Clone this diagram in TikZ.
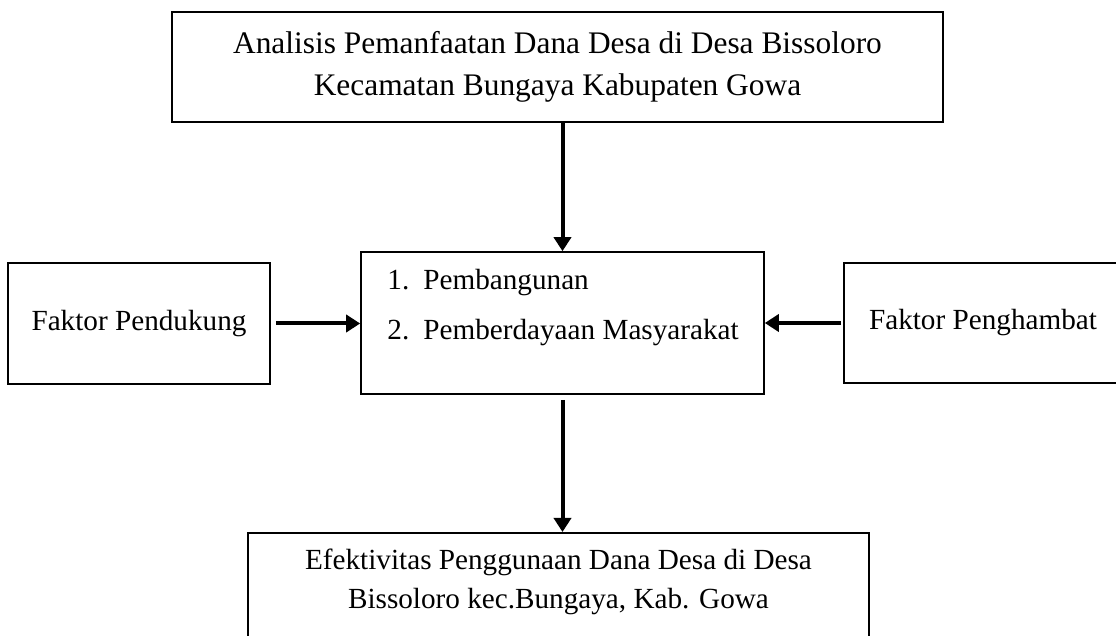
\documentclass[tikz,border=0pt]{standalone}
\usepackage{fontspec}
\setmainfont{Liberation Serif}
\usetikzlibrary{calc,arrows.meta}

\begin{document}
\begin{tikzpicture}[x=0.5pt,y=-0.5pt,
    box/.style={draw,line width=0.8pt,inner sep=0pt,align=center,
      font=\fontsize{14.6}{19.5}\selectfont},
    itemtext/.style={anchor=base west,inner sep=0pt,
      font=\fontsize{14.6}{19.5}\selectfont},
    flow/.style={line width=2pt,-{Triangle[length=7pt,width=8.5pt]}}]
  \clip (0,0) rectangle (1116,636);

  %% Main boxes
  \node[box,minimum width=385.5pt,minimum height=55pt,
    font=\fontsize{15.7}{21}\selectfont] (TOPIC) at (557.5,67)
    {Analisis Pemanfaatan Dana Desa di Desa Bissoloro\\Kecamatan Bungaya Kabupaten Gowa};
  \node[box,minimum width=201.5pt,minimum height=71pt] (PROG) at (562.5,323) {};
  \node[itemtext] (ITEM1) at (387,290) {\makebox[18pt][l]{1.}Pembangunan};
  \node[itemtext] (ITEM2) at (387,340) {\makebox[18pt][l]{2.}Pemberdayaan Masyarakat};

  %% Factors on both sides
  \node[box,minimum width=131pt,minimum height=60.5pt] (PENDUKUNG) at (139,323.5) {Faktor Pendukung};
  \node[box,minimum width=139pt,minimum height=60pt] (PENGHAMBAT) at (983,323) {Faktor Penghambat};

  %% Result box
  \node[box,anchor=north,minimum width=310.5pt,minimum height=65pt] (RESULT) at (558.5,532) {};
  \node[box,draw=none] (RESULTTXT) at (558.5,581.5)
    {Efektivitas Penggunaan Dana Desa di Desa\\Bissoloro kec.Bungaya, Kab. Gowa};

  %% Arrows
  \draw[flow] (PROG.north |- TOPIC.south) -- (PROG.north);
  \draw[flow] ([xshift=2.5pt]PENDUKUNG.east) -- (PROG.west |- PENDUKUNG.east);
  \draw[flow] ([xshift=-1pt]PENGHAMBAT.west) -- (PROG.east |- PENGHAMBAT.west);
  \draw[flow] ([yshift=-2.5pt]PROG.south) -- (PROG.south |- RESULT.north);
\end{tikzpicture}
\end{document}
